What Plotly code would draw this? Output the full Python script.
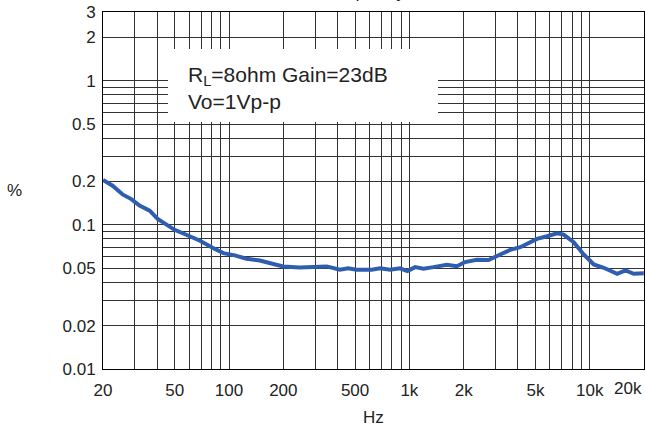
import math
import plotly.graph_objects as go

# ---- data ----
freq_hz = [20, 22.6, 25.8, 28.7, 31.9, 36.3, 40.2, 49.9, 59.2, 68.6, 81, 93, 107.6, 124.9, 148,
           199.5, 246, 348, 412, 457, 510, 618, 687, 782, 887, 975, 1076, 1197, 1360, 1613,
           1833, 2037, 2367, 2749, 3190, 3623, 4120, 5100, 5800, 6590, 7170, 8150, 9260,
           10530, 11960, 14200, 15790, 17550, 19950]
thd_pct = [0.205, 0.187, 0.162, 0.151, 0.136, 0.1256, 0.110, 0.0924, 0.0844, 0.0779, 0.0693,
           0.0637, 0.0614, 0.0582, 0.0566, 0.0515, 0.0507, 0.0515, 0.0489, 0.0500, 0.0489,
           0.0489, 0.0500, 0.0489, 0.0500, 0.0478, 0.0509, 0.0497, 0.0509, 0.0529, 0.0517,
           0.0552, 0.0573, 0.0570, 0.0623, 0.0671, 0.0700, 0.0800, 0.0834, 0.0875, 0.0857,
           0.0758, 0.0623, 0.0532, 0.0504, 0.0458, 0.0483, 0.0458, 0.0462]

x_tick_vals = [20, 50, 100, 200, 500, 1000, 2000, 5000, 10000]
x_tick_text = ["20", "50", "100", "200", "500", "1k", "2k", "5k", "10k"]
x_minor_vals = [30, 40, 60, 70, 80, 90, 300, 400, 600, 700, 800, 900,
                3000, 4000, 6000, 7000, 8000, 9000]
y_tick_vals = [0.01, 0.02, 0.05, 0.1, 0.2, 0.5, 1, 2, 3]
y_tick_text = ["0.01", "0.02", "0.05", "0.1", "0.2", "0.5", "1", "2", "3"]
y_minor_vals = [0.03, 0.04, 0.06, 0.07, 0.08, 0.09, 0.3, 0.4, 0.6, 0.7, 0.8, 0.9]

x_range = [20, 20000]
y_range = [0.01, 3]

# ---- layout geometry ----
W, H = 645, 428
ML, MR, MT, MB = 103, 1, 12, 59
PW, PH = W - ML - MR, H - MT - MB


def px_x(p):
    return (p - ML) / PW


def px_y(p):
    return (H - MB - p) / PH


FONT = "Arial, Liberation Sans, sans-serif"
GRID = "#333333"
TXT = "#222222"

fig = go.Figure()
fig.add_trace(go.Scatter(x=freq_hz, y=thd_pct, mode="lines",
                         line=dict(color="#2f5daf", width=4), showlegend=False,
                         hoverinfo="skip"))

fig.update_layout(
    width=W, height=H, margin=dict(l=ML, r=MR, t=MT, b=MB),
    paper_bgcolor="white", plot_bgcolor="white",
    font=dict(family=FONT, size=17, color=TXT),
    xaxis=dict(type="log", range=[math.log10(v) for v in x_range],
               tickvals=x_tick_vals, ticktext=x_tick_text, ticks="",
               showgrid=True, gridcolor=GRID, gridwidth=1,
               minor=dict(tickvals=x_minor_vals, showgrid=True, gridcolor=GRID, gridwidth=1, ticks=""),
               showline=True, linecolor="black", linewidth=1, mirror=True,
               zeroline=False, ticklabelstandoff=6),
    yaxis=dict(type="log", range=[math.log10(v) for v in y_range],
               tickvals=y_tick_vals, ticktext=y_tick_text, ticks="",
               showgrid=True, gridcolor=GRID, gridwidth=1,
               minor=dict(tickvals=y_minor_vals, showgrid=True, gridcolor=GRID, gridwidth=1, ticks=""),
               showline=True, linecolor="black", linewidth=1, mirror=True,
               zeroline=False, ticklabelstandoff=3),
)

# white box behind the condition text
fig.add_shape(type="rect", xref="paper", yref="paper",
              x0=px_x(168), x1=px_x(438), y0=px_y(122), y1=px_y(49),
              fillcolor="white", line=dict(width=0), layer="above")

fig.add_annotation(xref="paper", yref="paper", x=px_x(186), y=px_y(88),
                   xanchor="left", yanchor="middle", align="left", showarrow=False,
                   text="R<sub>L</sub>=8ohm Gain=23dB<br>Vo=1Vp-p",
                   font=dict(family=FONT, size=21, color=TXT))

# 20k label at the right edge
fig.add_annotation(xref="paper", yref="paper", x=px_x(644), y=px_y(388),
                   xanchor="right", yanchor="middle", showarrow=False,
                   text="20k", font=dict(family=FONT, size=17, color=TXT))

# axis titles
fig.add_annotation(xref="paper", yref="paper", x=px_x(373), y=px_y(417),
                   xanchor="center", yanchor="middle", showarrow=False,
                   text="Hz", font=dict(family=FONT, size=17, color=TXT))
fig.add_annotation(xref="paper", yref="paper", x=px_x(14), y=px_y(190),
                   xanchor="center", yanchor="middle", showarrow=False,
                   text="%", font=dict(family=FONT, size=17, color=TXT))

# chart title (mostly above the visible area)
fig.add_annotation(xref="paper", yref="paper", x=px_x(239), y=px_y(4),
                   xanchor="left", yanchor="bottom", showarrow=False,
                   text="THD+N vs Frequency", font=dict(family=FONT, size=17, color=TXT))

fig.write_html("out.html", config={"displayModeBar": False},
               post_script="document.body.style.margin='0';document.body.style.overflow='hidden';")
